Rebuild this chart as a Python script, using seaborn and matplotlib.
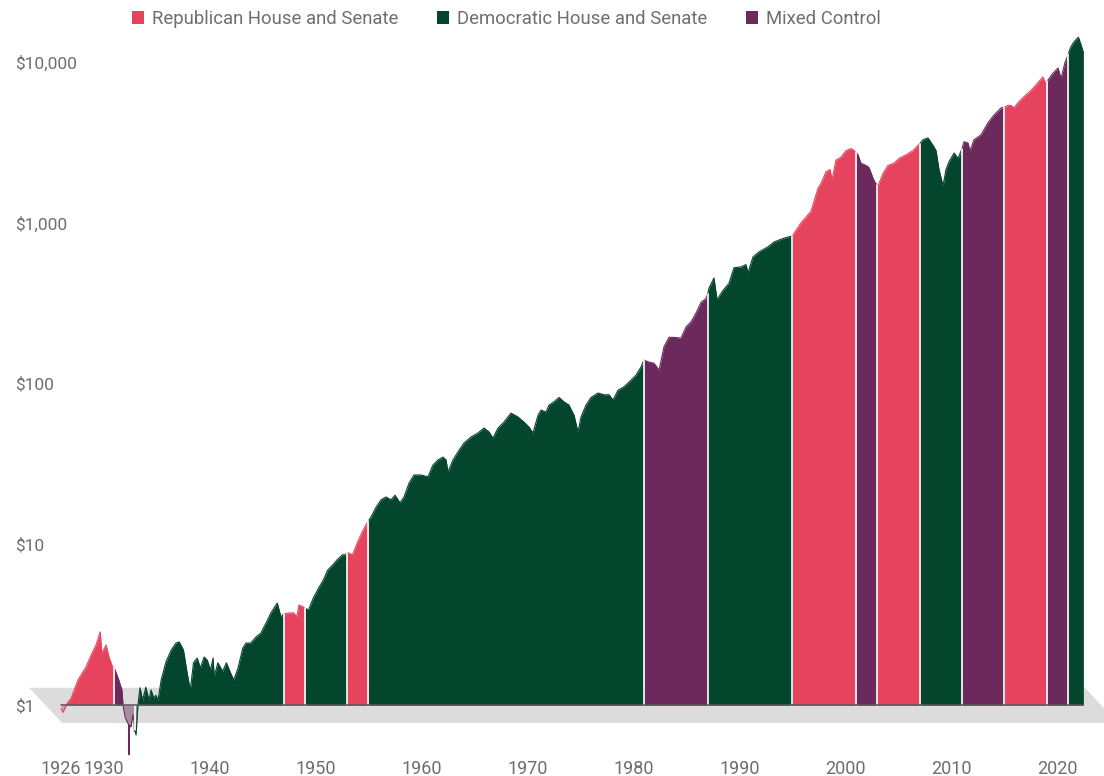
import numpy as np
import pandas as pd
import matplotlib
matplotlib.use("Agg")
import matplotlib.pyplot as plt
from matplotlib.patches import Patch, Polygon
import seaborn as sns

# growth of $1 (year, dollars)
years = [
    1926.00, 1926.20, 1926.45, 1926.60, 1926.95, 1927.60, 1928.35, 1928.85, 1929.30, 1929.70,
    1929.85, 1930.25, 1930.55, 1930.90,
    1931.00, 1931.45, 1931.75, 1931.85, 1932.05, 1932.30, 1932.37, 1932.42, 1932.47, 1932.60,
    1932.78, 1932.88, 1932.93,
    1933.00, 1933.08, 1933.26, 1933.45, 1933.70, 1934.00, 1934.30, 1934.50, 1934.75, 1934.95,
    1935.15, 1935.45, 1935.90, 1936.40, 1936.85, 1937.15, 1937.55, 1937.90, 1938.20, 1938.50,
    1938.85, 1939.15, 1939.50, 1939.80, 1940.10, 1940.35, 1940.45, 1940.80, 1941.25, 1941.60,
    1942.00, 1942.30, 1942.70, 1943.15, 1943.45, 1943.90, 1944.40, 1944.85, 1945.35, 1945.80,
    1946.40, 1946.75,
    1947.00, 1947.50, 1947.95, 1948.25, 1948.45, 1948.85,
    1949.00, 1949.35, 1949.80, 1950.30, 1950.75, 1951.15, 1951.60, 1952.05, 1952.55, 1952.85,
    1953.00, 1953.50, 1953.95, 1954.40, 1954.85,
    1955.00, 1955.25, 1955.72, 1956.19, 1956.66, 1957.13, 1957.51, 1957.98, 1958.36, 1958.83,
    1959.30, 1959.96, 1960.62, 1961.09, 1961.57, 1962.04, 1962.32, 1962.51, 1962.98, 1963.45,
    1964.02, 1964.68, 1965.34, 1965.91, 1966.38, 1966.75, 1967.23, 1967.79, 1968.45, 1969.11,
    1969.68, 1970.15, 1970.53, 1971.00, 1971.28, 1971.75, 1972.04, 1972.51, 1972.98, 1973.45,
    1973.92, 1974.40, 1974.77, 1975.06, 1975.53, 1976.00, 1976.66, 1977.23, 1977.70, 1978.08,
    1978.55, 1979.11, 1979.77, 1980.25, 1980.72, 1980.95,
    1981.00, 1981.47, 1981.94, 1982.42, 1982.89, 1983.36, 1983.83, 1984.49, 1984.96, 1985.43,
    1985.91, 1986.38, 1986.85,
    1987.00, 1987.13, 1987.60, 1987.89, 1988.45, 1989.02, 1989.49, 1990.15, 1990.62, 1990.81,
    1991.28, 1991.85, 1992.70, 1993.26, 1994.11, 1994.68,
    1995.00, 1995.81, 1996.75, 1997.42, 1997.70, 1998.17, 1998.55, 1998.74, 1999.11, 1999.58,
    2000.06, 2000.53, 2000.81,
    2001.00, 2001.19, 2001.47, 2001.94, 2002.23, 2002.60, 2002.79,
    2003.00, 2003.08, 2003.55, 2004.02, 2004.58, 2005.06, 2005.72, 2006.38, 2006.85,
    2007.00, 2007.32, 2007.79, 2008.26, 2008.55, 2008.83, 2009.21, 2009.49, 2009.77, 2010.25,
    2010.62, 2010.91,
    2011.00, 2011.19, 2011.57, 2011.75, 2012.13, 2012.79, 2013.45, 2014.02, 2014.68,
    2015.00, 2015.34, 2015.62, 2015.91, 2016.28, 2016.85, 2017.51, 2018.17, 2018.64, 2018.83,
    2019.00, 2019.11, 2019.58, 2020.06, 2020.34, 2020.72, 2020.91,
    2021.00, 2021.28, 2021.57, 2021.98, 2022.17, 2022.45,
]
values = [
    0.95, 0.90, 0.98, 1.03, 1.10, 1.43, 1.72, 2.05, 2.36, 2.85,
    2.10, 2.36, 1.96, 1.70,
    1.72, 1.43, 1.24, 1.00, 0.84, 0.77, 0.76, 0.49, 0.75, 0.73,
    0.87, 0.80, 0.68,
    0.70, 0.65, 1.00, 1.28, 1.07, 1.29, 1.07, 1.24, 1.10, 1.15,
    1.07, 1.43, 1.85, 2.20, 2.43, 2.47, 2.20, 1.58, 1.24, 1.83,
    1.96, 1.70, 1.99, 1.90, 1.65, 1.96, 1.50, 1.83, 1.62, 1.83,
    1.58, 1.43, 1.70, 2.26, 2.43, 2.43, 2.65, 2.80, 3.24, 3.74,
    4.31, 3.53,
    3.68, 3.74, 3.74, 3.53, 4.19, 4.07,
    4.01, 3.90, 4.63, 5.34, 6.00, 6.90, 7.40, 8.00, 8.60, 8.60,
    8.90, 8.60, 10.2, 11.9, 13.5,
    14.0, 14.8, 17.0, 18.9, 19.7, 18.9, 20.2, 18.1, 19.7, 24.0,
    27.0, 27.0, 26.3, 31.1, 33.5, 34.9, 33.5, 28.2, 33.5, 37.6,
    42.7, 46.5, 49.3, 52.9, 50.0, 45.8, 52.9, 57.6, 65.5, 62.0,
    57.6, 53.6, 49.3, 63.5, 68.4, 66.5, 73.5, 77.0, 82.0, 77.0,
    73.5, 63.5, 50.0, 62.0, 73.5, 82.0, 87.4, 85.2, 85.2, 79.0,
    91.0, 95.5, 105, 113, 127, 138,
    140, 136, 134, 121, 170, 194, 194, 192, 225, 242,
    275, 320, 339,
    360, 393, 454, 333, 380, 421, 526, 532, 550, 488,
    614, 660, 710, 760, 800, 820,
    830, 1000, 1180, 1650, 1760, 2080, 2150, 1850, 2460, 2560,
    2820, 2900, 2820,
    2750, 2650, 2350, 2280, 2210, 1900, 1790,
    1720, 1700, 2030, 2280, 2350, 2520, 2650, 2820, 3040,
    3100, 3290, 3380, 3040, 2820, 2150, 1700, 2150, 2400, 2720,
    2520, 2800,
    2900, 3200, 3140, 2800, 3290, 3530, 4200, 4690, 5190,
    5250, 5380, 5380, 5190, 5600, 6100, 6670, 7460, 8100, 7460,
    7600, 7750, 8540, 9200, 7920, 10000, 10700,
    11200, 12500, 13400, 14300, 13200, 11500,
]

# congresses: first year of each period and which party held both chambers
period_starts = [1926, 1931, 1933, 1947, 1949, 1953, 1955, 1981, 1987,
                 1995, 2001, 2003, 2007, 2011, 2015, 2019, 2021]
period_control = ["R", "M", "D", "R", "D", "R", "D", "M", "D",
                  "R", "M", "R", "D", "M", "R", "M", "D"]

control_names = {"R": "Republican House and Senate",
                 "D": "Democratic House and Senate",
                 "M": "Mixed Control"}
colors = {"R": "#E6435F", "D": "#04452D", "M": "#6B2A5B"}

y_ticks = [1, 10, 100, 1000, 10000]
y_labels = ["$1", "$10", "$100", "$1,000", "$10,000"]
x_ticks = [1926, 1930, 1940, 1950, 1960, 1970, 1980, 1990, 2000, 2010, 2020]

yr = np.array(years)
val = np.array(values)
last_year = years[-1]

segs = []
for i, (start, ctl) in enumerate(zip(period_starts, period_control)):
    end = period_starts[i + 1] if i + 1 < len(period_starts) else last_year
    m = (yr >= start) & (yr <= end)
    seg = pd.DataFrame({"year": yr[m], "value": val[m]})
    seg["control"] = ctl
    seg["period"] = i
    segs.append(seg)
df = pd.concat(segs, ignore_index=True)

sns.set_style("white")
plt.rcParams["font.family"] = ["Roboto", "DejaVu Sans"]
grey = "#6E6E6E"

fig = plt.figure(figsize=(11.04, 7.76), dpi=100)
ax = fig.add_axes([0, 0, 1, 1])

# px per year 10.6, 1926 sits at x=61 px; 160.7 px per decade, $1 at y=705 px
x_left = 1926 - 61 / 10.6
ax.set_xlim(x_left, x_left + 1104 / 10.6)
ax.set_yscale("log")
ax.set_ylim(10 ** ((705 - 776) / 160.7), 10 ** (705 / 160.7))

# grey floor under the $1 line
floor_top, floor_bot = 1.28, 0.773
floor = Polygon([(years[0] - 3.0, floor_top), (last_year + 0.15, floor_top),
                 (last_year + 3.25, floor_bot), (years[0] + 0.1, floor_bot)],
                closed=True, facecolor="#DCDCDC", edgecolor="none", zorder=0)
ax.add_patch(floor)

for (i, ctl), seg in df.groupby(["period", "control"]):
    c = colors[ctl]
    ax.fill_between(seg["year"], 1, seg["value"], where=seg["value"] >= 1,
                    interpolate=True, color=c, lw=0, zorder=2)
    ax.fill_between(seg["year"], 1, seg["value"], where=seg["value"] <= 1,
                    interpolate=True, color=c, alpha=0.45, lw=0, zorder=2)

sns.lineplot(data=df, x="year", y="value", hue="control", units="period",
             estimator=None, palette=colors, legend=False, lw=0.8, ax=ax, zorder=3)

# white separators between periods
for s in period_starts[1:]:
    v = val[yr == s][0]
    ax.plot([s, s], [1, v], color="white", lw=1.2, zorder=4)

ax.plot([years[0], last_year], [1, 1], color="#555555", lw=1.1, zorder=5)

for sp in ax.spines.values():
    sp.set_visible(False)
ax.grid(False)

ax.set_yticks(y_ticks)
ax.set_yticklabels(y_labels)
ax.minorticks_off()
ax.tick_params(axis="y", length=0, pad=-15 / 1.389, labelsize=12.5, labelcolor=grey)
for lab in ax.get_yticklabels():
    lab.set_horizontalalignment("left")
ax.set_xticks(x_ticks)
ax.set_xticklabels([str(t) for t in x_ticks])
ax.tick_params(axis="x", length=0, pad=-16 / 1.389, labelsize=13, labelcolor=grey)
ax.set_xlabel("")
ax.set_ylabel("")

handles = [Patch(facecolor=colors[k], edgecolor="none", label=control_names[k])
           for k in ["R", "D", "M"]]
fig.legend(handles=handles, loc="center left", bbox_to_anchor=(132 / 1104, 1 - 19 / 776),
           ncol=3, frameon=False, fontsize=13.3, labelcolor=grey,
           handlelength=0.65, handleheight=0.65, handletextpad=0.45,
           columnspacing=2.07, borderpad=0, borderaxespad=0)

fig.savefig("out.png", dpi=100)
